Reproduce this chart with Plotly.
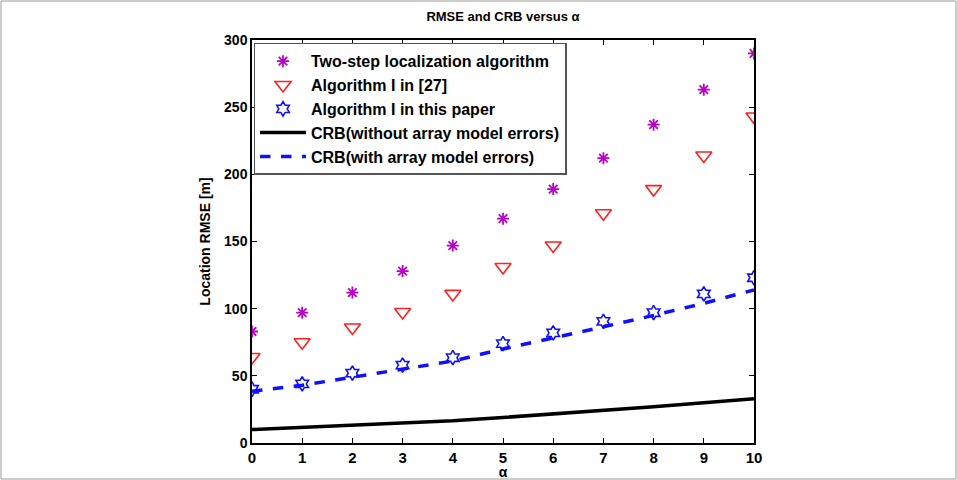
import plotly.graph_objects as go

alpha = list(range(11))
two_step = [83, 97, 112, 128, 147, 167, 189, 212, 237, 263, 290]
alg_27 = [64, 75, 86, 97.5, 111, 131, 147, 171, 189, 214, 243]
alg_this = [40, 44, 52, 58, 63.5, 74, 82, 90.5, 97, 111, 123]
crb_no_err = [10, 11.5, 13, 14.5, 16.5, 19, 21.5, 24, 27, 30, 33]
crb_err = [38.5, 43, 49, 55, 61, 70, 78, 86.5, 95, 104, 114]

W, H = 957, 480
L, R, T, B = 252, 203, 40, 37
pw, ph = W - L - R, H - T - B

font = "Liberation Sans, Arial, sans-serif"
magenta = "#b800c8"

fig = go.Figure()
fig.add_trace(go.Scatter(x=alpha, y=two_step, mode="markers", name="Two-step localization algorithm",
                         marker=dict(symbol="asterisk-open", size=10, color=magenta,
                                     line=dict(color=magenta, width=1.8))))
fig.add_trace(go.Scatter(x=alpha, y=alg_27, mode="markers", name="Algorithm I in [27]",
                         marker=dict(symbol="triangle-down-open", size=14, color="#ff2020",
                                     line=dict(color="#ff2020", width=1.6))))
fig.add_trace(go.Scatter(x=alpha, y=alg_this, mode="markers", name="Algorithm I in this paper",
                         marker=dict(symbol="hexagram-open", size=11, color="#1010ff",
                                     line=dict(color="#1010ff", width=1.6))))
fig.add_trace(go.Scatter(x=alpha, y=crb_no_err, mode="lines", name="CRB(without array model errors)",
                         line=dict(color="black", width=3.5)))
fig.add_trace(go.Scatter(x=alpha, y=crb_err, mode="lines", name="CRB(with array model errors)",
                         line=dict(color="#1010ff", width=3.5, dash="dash")))

axis_common = dict(showline=True, linecolor="black", linewidth=1.5, mirror="ticks", ticks="inside",
                   ticklen=5, tickcolor="black", showgrid=False, zeroline=False, automargin=False)

fig.update_layout(
    width=W, height=H,
    margin=dict(l=L, r=R, t=T, b=B, autoexpand=False),
    paper_bgcolor="white", plot_bgcolor="white",
    title=dict(text="<b>RMSE and CRB versus α</b>", x=(L + pw / 2) / W, xanchor="center",
               y=1 - 16 / H, yanchor="middle", font=dict(family=font, size=13, color="black")),
    xaxis=dict(range=[0, 10], tickvals=alpha,
               tickfont=dict(family=font, size=15, color="black", weight="bold"),
               title=dict(text="<b>α</b>", standoff=2, font=dict(family=font, size=14, color="black")),
               **axis_common),
    yaxis=dict(range=[0, 300], tickvals=[0, 50, 100, 150, 200, 250, 300],
               tickfont=dict(family=font, size=14, color="black", weight="bold"),
               title=dict(text="<b>Location RMSE [m]</b>", standoff=10,
                          font=dict(family=font, size=14, color="black")), **axis_common),
    legend=dict(x=0.003, y=0.993, xanchor="left", yanchor="top", bgcolor="white",
                bordercolor="#555555", borderwidth=1.5, itemwidth=46,
                font=dict(family=font, size=16, color="black", weight="bold"), tracegroupgap=0),
    showlegend=True,
    shapes=[dict(type="rect", xref="paper", yref="paper",
                 x0=(1 - L) / pw, x1=(W - 1 - L) / pw, y0=-(B - 1) / ph, y1=1 + (T - 1) / ph,
                 line=dict(color="#9a9a9a", width=1), layer="below")],
)

fig.write_html("out.html")
